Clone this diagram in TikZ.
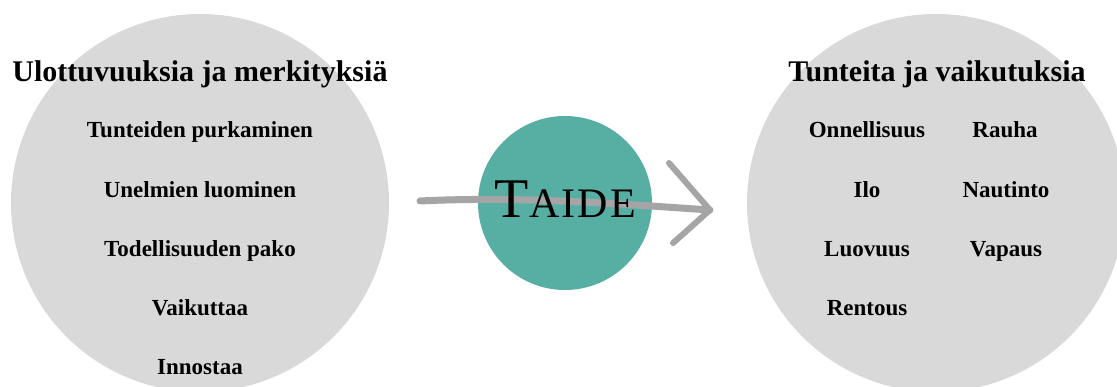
\documentclass[tikz,border=0pt]{standalone}
\usepackage{fontspec}
\setmainfont{Liberation Serif}
\definecolor{circgray}{HTML}{D9D9D9}
\definecolor{teal}{HTML}{57AFA4}
\definecolor{brush}{HTML}{A5A5A5}
\begin{document}
\begin{tikzpicture}[x=1pt,y=-1pt,
  bigcirc/.style={circle,fill=circgray,inner sep=0pt,minimum size=378pt},
  title/.style={anchor=base,font=\fontsize{30}{34}\selectfont\bfseries},
  item/.style={anchor=base,font=\fontsize{23}{27}\selectfont\bfseries},
  brushline/.style={draw=brush,line width=7pt,line cap=round,line join=round}]
\useasboundingbox (0,0) rectangle (1117,387);
\clip (0,0) rectangle (1117,387);
\node[bigcirc] (L) at (200,203) {};
\node[bigcirc] (R) at (936,203) {};
\node[circle,fill=teal,inner sep=0pt,minimum size=174pt] (M) at (565,203) {};
% brush arrow
\coordinate (a0) at (420,201);
\coordinate (a1) at (710,210);
\coordinate (b1) at (669,163);
\coordinate (b2) at (673,243);
\draw[brushline] (a0) .. controls (520,196) and (620,204) .. (a1);
\draw[brushline,line width=6pt] (b1) -- (a1) -- (b2);
\node[anchor=base,inner sep=0pt] (taide) at (565,218)
  {\fontsize{56}{60}\selectfont T\fontsize{42}{46}\selectfont\kern1pt A\kern2pt I\kern2pt D\kern2pt E};
% left texts
\node[title] (lt) at (200,82) {Ulottuvuuksia ja merkityksiä};
\node[item] (l1) at (200,138) {Tunteiden purkaminen};
\node[item] (l2) at (200,197.5) {Unelmien luominen};
\node[item] (l3) at (200,256.5) {Todellisuuden pako};
\node[item] (l4) at (200,316) {Vaikuttaa};
\node[item] (l5) at (200,375) {Innostaa};
% right texts
\node[title] (rt) at (937,82) {Tunteita ja vaikutuksia};
\node[item] (r1) at (867,138) {Onnellisuus};
\node[item] (r2) at (1005,138) {Rauha};
\node[item] (r3) at (867,198) {Ilo};
\node[item] (r4) at (1006,198) {Nautinto};
\node[item] (r5) at (867,257) {Luovuus};
\node[item] (r6) at (1006,257) {Vapaus};
\node[item] (r7) at (867,316) {Rentous};
\end{tikzpicture}
\end{document}
